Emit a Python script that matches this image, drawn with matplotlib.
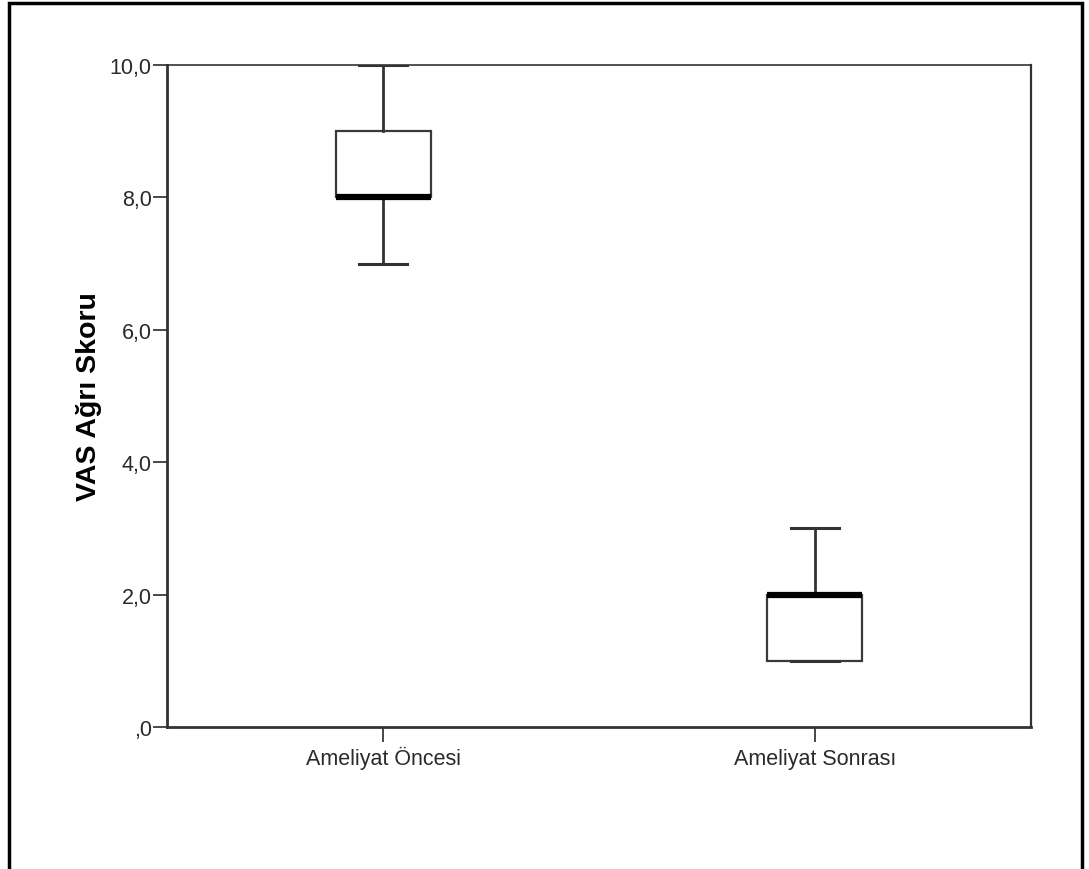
import matplotlib.pyplot as plt
from matplotlib.patches import Rectangle

plt.rcParams['font.family'] = ['Liberation Sans', 'DejaVu Sans']

groups = ['Ameliyat Öncesi', 'Ameliyat Sonrası']
whis_lo = [7.0, 1.0]
q1 = [8.0, 1.0]
medians = [8.0, 2.0]
q3 = [9.0, 2.0]
whis_hi = [10.0, 3.0]
y_ticks = [0, 2, 4, 6, 8, 10]
y_tick_labels = [',0', '2,0', '4,0', '6,0', '8,0', '10,0']

stats = []
for i, g in enumerate(groups):
    stats.append({'label': g, 'whislo': whis_lo[i], 'q1': q1[i], 'med': medians[i],
                  'q3': q3[i], 'whishi': whis_hi[i], 'fliers': []})

fig = plt.figure(figsize=(10.89, 8.70), dpi=100)
ax = fig.add_axes([0.1534, 0.1632, 0.7933, 0.7609])

ax.bxp(stats, positions=[1, 2], widths=0.22, showfliers=False, patch_artist=True,
       boxprops=dict(facecolor='white', edgecolor='#3a3a3a', linewidth=1.6),
       medianprops=dict(color='black', linewidth=4.5, solid_capstyle='butt'),
       whiskerprops=dict(color='#333333', linewidth=2.0),
       capprops=dict(color='#333333', linewidth=2.2),
       capwidths=0.11)

ax.set_xlim(0.5, 2.5)
ax.set_ylim(0, 10)
ax.set_yticks(y_ticks)
ax.set_yticklabels(y_tick_labels)
ax.set_xticks([1, 2])
ax.set_xticklabels(groups, va='baseline')
ax.tick_params(axis='both', labelsize=15.5, colors='#2a2a2a', length=10, width=1.2, pad=1)
ax.tick_params(axis='x', length=11, pad=15.5)
for s in ax.spines.values():
    s.set_linewidth(2.0)
    s.set_color('#333333')
ax.spines['top'].set_linewidth(1.2)
ax.spines['right'].set_linewidth(1.6)

ax.set_ylabel('VAS Ağrı Skoru', fontsize=20.5, fontweight='bold')
ax.yaxis.set_label_coords(-0.075, 0.5)

# outer frame (bottom edge falls outside the image)
fig.patches.append(Rectangle((0.0085, -0.05), 0.9855, 1.045, transform=fig.transFigure,
                             fill=False, edgecolor='black', linewidth=2.5))

fig.savefig('out.png', dpi=100)
